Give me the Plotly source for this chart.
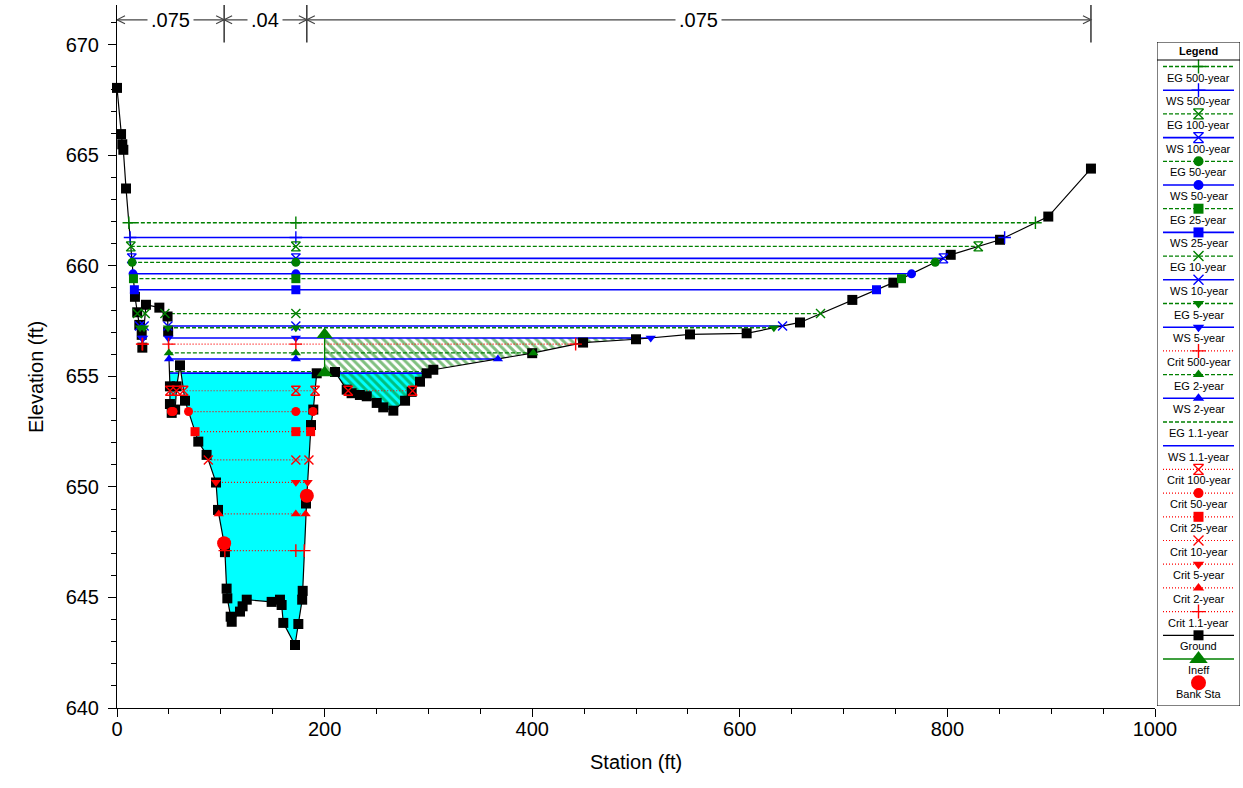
import plotly.graph_objects as go

# ---------------- data ----------------
ground_sta = [0.0, 3.9, 5.1, 6.1, 8.7, 17.3, 19.5, 21.5, 23.8, 24.4, 27.9, 40.8, 48.7, 49.3,
              51.0, 51.0, 52.7, 56.0, 57.5, 60.7, 65.5, 78.3, 86.3, 95.4, 97.3, 103.2, 104.0,
              105.6, 106.3, 109.5, 110.5, 118.5, 121.0, 125.0, 149.0, 157.0, 158.6, 160.2,
              171.5, 174.7, 178.4, 178.9, 182.1, 182.9, 186.9, 189.1, 192.4, 210.0, 221.3,
              226.0, 234.0, 240.6, 250.2, 256.5, 266.2, 277.5, 283.9, 291.9, 298.3, 304.7,
              400.0, 449.0, 500.0, 552.0, 606.6, 658.0, 708.4, 747.9, 803.2, 850.7, 897.2, 938.3]
ground_elev = [668.05, 665.96, 665.5, 665.25, 663.5, 658.6, 657.9, 657.33, 656.88, 656.3, 658.24,
               658.11, 657.71, 657.03, 654.55, 653.75, 653.35, 653.5, 654.55, 655.5, 653.9,
               652.05, 651.45, 650.2, 648.96, 647.45, 647.05, 645.4, 644.96, 644.13, 643.9,
               644.36, 644.6, 644.9, 644.8, 644.9, 644.66, 643.85, 642.85, 643.8, 644.9, 645.3,
               649.25, 649.6, 652.8, 653.5, 655.14, 655.2, 654.4, 654.24, 654.16, 654.1, 653.8,
               653.6, 653.45, 653.9, 654.3, 654.76, 655.14, 655.3, 656.05, 656.53, 656.68,
               656.9, 656.95, 657.44, 658.46, 659.24, 660.5, 661.18, 662.23, 664.4]

bank_sta = [103.2, 182.9]
bank_elev = [647.45, 649.6]

n_values = [".075", ".04", ".075"]

ineff_sta = 200.0
ineff_elev = 656.9
hatch_top = 656.74

profile_names = ["EG 500-year", "WS 500-year", "EG 100-year", "WS 100-year", "EG 50-year",
                 "WS 50-year", "EG 25-year", "WS 25-year", "EG 10-year", "WS 10-year",
                 "EG 5-year", "WS 5-year", "Crit 500-year", "EG 2-year", "WS 2-year",
                 "EG 1.1-year", "WS 1.1-year", "Crit 100-year", "Crit 50-year", "Crit 25-year",
                 "Crit 10-year", "Crit 5-year", "Crit 2-year", "Crit 1.1-year"]
profile_elev = [661.95, 661.28, 660.88, 660.34, 660.16, 659.64, 659.42, 658.92, 657.84, 657.28,
                657.20, 656.74, 656.46, 656.06, 655.79, 655.22, 655.15, 654.35, 653.41, 652.50,
                651.22, 650.21, 648.78, 647.12]
profile_symbols = ["cross-thin", "cross-thin", "hourglass-open", "hourglass-open", "circle",
                   "circle", "square", "square", "x-thin", "x-thin", "triangle-down",
                   "triangle-down", "cross-thin", "triangle-up", "triangle-up", None, None,
                   "hourglass-open", "circle", "square", "x-thin", "triangle-down",
                   "triangle-up", "cross-thin"]
middle_sta = 172.3

# ---------------- helpers ----------------
GREEN, BLUE, RED = "rgb(0,128,0)", "rgb(0,0,255)", "rgb(255,0,0)"
FONT = "Arial, Liberation Sans, sans-serif"


def style_for(name):
    if name.startswith("EG"):
        return GREEN, "4px,2px", 1.3
    if name.startswith("WS"):
        return BLUE, "solid", 1.6
    return RED, "1px,2px", 1.2


def ground_at(x):
    for i in range(len(ground_sta) - 1):
        xa, xb = ground_sta[i], ground_sta[i + 1]
        if xa <= x <= xb and xb > xa:
            ya, yb = ground_elev[i], ground_elev[i + 1]
            return ya + (x - xa) / (xb - xa) * (yb - ya)
    return ground_elev[-1]


def wet_intervals(level):
    out, start = [], None
    for i in range(len(ground_sta) - 1):
        xa, ya = ground_sta[i], ground_elev[i]
        xb, yb = ground_sta[i + 1], ground_elev[i + 1]
        if ya >= level and yb < level:
            start = xa + (level - ya) / (yb - ya) * (xb - xa)
        elif ya < level and yb >= level and start is not None:
            end = xa + (level - ya) / (yb - ya) * (xb - xa)
            out.append((start, end))
            start = None
    return out


fig = go.Figure()

# ---- water fill for lowest WS ----
ws_low = profile_elev[profile_names.index("WS 1.1-year")]
fx, fy = [], []
for a, b in wet_intervals(ws_low):
    fx += [a] + [x for x in ground_sta if a < x < b] + [b, None]
    fy += [ws_low] + [ground_elev[k] for k, x in enumerate(ground_sta) if a < x < b] + [ws_low, None]
fig.add_trace(go.Scatter(x=fx, y=fy, mode="lines", fill="toself", fillcolor="rgb(0,255,255)",
                         line=dict(width=0), hoverinfo="skip", showlegend=False))

# ---- ineffective flow hatch ----
hb = [b for a, b in wet_intervals(hatch_top) if a <= ineff_sta <= b][0]
hx = [ineff_sta, ineff_sta] + [x for x in ground_sta if ineff_sta < x < hb] + [hb]
hy = [hatch_top, ground_at(ineff_sta)] + [ground_elev[k] for k, x in enumerate(ground_sta)
                                            if ineff_sta < x < hb] + [hatch_top]
fig.add_trace(go.Scatter(x=hx, y=hy, mode="lines", fill="toself", fillcolor="rgba(0,0,0,0)",
                         fillpattern=dict(shape="\\", fgcolor=GREEN, bgcolor="rgba(0,0,0,0)",
                                          size=6, solidity=0.5),
                         line=dict(width=0), hoverinfo="skip", showlegend=False))

# ---- profile lines ----
marker_sets = []
for name, elev, sym in zip(profile_names, profile_elev, profile_symbols):
    col, dash, w = style_for(name)
    ivs = wet_intervals(elev)
    lx, ly, mx = [], [], []
    for a, b in ivs:
        lx += [a, b, None]
        ly += [elev, elev, None]
        mx += [a, b]
        if a < middle_sta < b:
            mx.append(middle_sta)
    fig.add_trace(go.Scatter(x=lx, y=ly, mode="lines", line=dict(color=col, dash=dash, width=w),
                             showlegend=False, name=name))
    if sym:
        marker_sets.append((name, mx, [elev] * len(mx), sym, col))

# ---- ground ----
fig.add_trace(go.Scatter(x=ground_sta, y=ground_elev, mode="lines+markers",
                         line=dict(color="black", width=1.2),
                         marker=dict(symbol="square", size=10, color="black"),
                         cliponaxis=False, showlegend=False, name="Ground"))

# ---- profile markers ----
for name, mx, my, sym, col in marker_sets:
    thin = sym.endswith("thin") or sym.endswith("open")
    fig.add_trace(go.Scatter(x=mx, y=my, mode="markers", cliponaxis=False, showlegend=False,
                             marker=dict(symbol=sym, size=9, color=col,
                                         line=dict(color=col, width=1.4 if thin else 0)),
                             name=name))

# ---- ineffective marker ----
g_ineff = ground_at(ineff_sta)
fig.add_trace(go.Scatter(x=[ineff_sta, ineff_sta], y=[g_ineff, ineff_elev], mode="lines+markers",
                         line=dict(color=GREEN, width=1.3),
                         marker=dict(symbol="triangle-up", size=14, color=GREEN),
                         showlegend=False, name="Ineff"))

# ---- bank stations ----
fig.add_trace(go.Scatter(x=bank_sta, y=bank_elev, mode="markers",
                         marker=dict(symbol="circle", size=14, color=RED),
                         showlegend=False, name="Bank Sta"))

# ---- Manning's n bars ----
n_bounds = [ground_sta[0]] + bank_sta + [ground_sta[-1]]
y_arrow, y_bar0, y_bar1 = 671.13, 670.1, 671.8
dx, dy = 7.7, 0.18
shapes = []
for xb in n_bounds[1:]:
    shapes.append(dict(type="line", xref="x", yref="y", x0=xb, x1=xb, y0=y_bar0, y1=y_bar1,
                       line=dict(color="black", width=1.2)))
annotations = []
for k, lab in enumerate(n_values):
    a, b = n_bounds[k], n_bounds[k + 1]
    shapes.append(dict(type="line", xref="x", yref="y", x0=a, x1=b, y0=y_arrow, y1=y_arrow,
                       line=dict(color="#444", width=1.2)))
    shapes.append(dict(type="path", xref="x", yref="y",
                       path=f"M {a+dx},{y_arrow+dy} L {a},{y_arrow} L {a+dx},{y_arrow-dy}",
                       line=dict(color="#444", width=1.2)))
    shapes.append(dict(type="path", xref="x", yref="y",
                       path=f"M {b-dx},{y_arrow+dy} L {b},{y_arrow} L {b-dx},{y_arrow-dy}",
                       line=dict(color="#444", width=1.2)))
    annotations.append(dict(x=(a + b) / 2, y=y_arrow, xref="x", yref="y", text=lab,
                            showarrow=False, bgcolor="white", borderpad=3,
                            font=dict(family=FONT, size=20, color="black")))

# ---- axis titles ----
W, H = 1243, 788
ml, mr, mt, mb = 117, 3, 5, 80
pw, ph = W - ml - mr, H - mt - mb


def pxp(px):
    return (px - ml) / pw


def pyp(py):
    return (H - mb - py) / ph


annotations.append(dict(x=pxp(23), y=pyp(377), xref="paper", yref="paper", text="Elevation (ft)",
                        textangle=-90, showarrow=False, font=dict(family=FONT, size=20, color="black")))
annotations.append(dict(x=pxp(636), y=pyp(775), xref="paper", yref="paper", text="Station (ft)",
                        showarrow=False, font=dict(family=FONT, size=20, color="black")))

# ---- custom legend (pixel-unit axes) ----
LX0, LX1, LY0, LY1 = 1157, 1240, 42, 706
legend_names = profile_names + ["Ground", "Ineff", "Bank Sta"]
lcx = (1163 + 1234) / 2
shapes.append(dict(type="rect", xref="x2", yref="y2", x0=LX0, x1=LX1, y0=LY0, y1=LY1,
                   line=dict(color="black", width=1), fillcolor="rgba(0,0,0,0)"))
shapes.append(dict(type="line", xref="x2", yref="y2", x0=LX0, x1=LX1, y0=60, y1=60,
                   line=dict(color="black", width=1)))
annotations.append(dict(x=lcx, y=51, xref="x2", yref="y2", text="<b>Legend</b>", showarrow=False,
                        font=dict(family=FONT, size=11, color="black")))
for i, name in enumerate(legend_names):
    ty = 77.5 + i * 23.7
    ly = ty - 11
    if name in profile_names:
        col, dash, w = style_for(name)
        sym = profile_symbols[profile_names.index(name)]
        size = 10
    elif name == "Ground":
        col, dash, w, sym, size = "black", "solid", 1.2, "square", 10
    elif name == "Ineff":
        col, dash, w, sym, size = GREEN, "solid", 1.3, "triangle-up", 16
    else:
        col, dash, w, sym, size = RED, None, 0, "circle", 15
    if dash:
        fig.add_trace(go.Scatter(x=[1163, 1234], y=[ly, ly], xaxis="x2", yaxis="y2", mode="lines",
                                 line=dict(color=col, dash=dash, width=w), showlegend=False,
                                 hoverinfo="skip"))
    if sym:
        thin = sym.endswith("thin") or sym.endswith("open")
        fig.add_trace(go.Scatter(x=[lcx], y=[ly], xaxis="x2", yaxis="y2", mode="markers",
                                 marker=dict(symbol=sym, size=size, color=col,
                                             line=dict(color=col, width=1.4 if thin else 0)),
                                 showlegend=False, hoverinfo="skip", cliponaxis=False))
    annotations.append(dict(x=lcx, y=ty, xref="x2", yref="y2", text=name, showarrow=False,
                            font=dict(family=FONT, size=11, color="black")))

fig.update_layout(
    width=W, height=H, margin=dict(l=ml, r=mr, t=mt, b=mb, autoexpand=False), autosize=False,
    paper_bgcolor="white", plot_bgcolor="white", showlegend=False,
    font=dict(family=FONT, color="black"),
    xaxis=dict(domain=[0, pxp(1155)], range=[0, 1000], dtick=200, showgrid=False, zeroline=False,
               showline=True, linecolor="black", linewidth=1, ticks="outside", ticklen=8,
               tickcolor="black", tickfont=dict(family=FONT, size=20), automargin=False,
               ticklabelstandoff=-5,
               minor=dict(dtick=50, ticks="outside", ticklen=5, tickcolor="black")),
    yaxis=dict(domain=[0, 1], range=[640, 671.8], tickvals=[640, 645, 650, 655, 660, 665, 670],
               showgrid=False, zeroline=False, showline=True, linecolor="black", linewidth=1,
               ticks="outside", ticklen=8, tickcolor="black", tickfont=dict(family=FONT, size=20),
               automargin=False, ticklabelstandoff=5,
               minor=dict(dtick=1, ticks="outside", ticklen=5, tickcolor="black")),
    xaxis2=dict(domain=[pxp(LX0), pxp(LX1)], range=[LX0, LX1], visible=False, anchor="y2",
                automargin=False),
    yaxis2=dict(domain=[pyp(LY1), pyp(LY0)], range=[LY1, LY0], visible=False, anchor="x2",
                automargin=False),
    shapes=shapes, annotations=annotations,
)

fig.write_html("out.html", config={"responsive": False, "displayModeBar": False},
               post_script="document.body.style.margin='0';document.body.style.overflow='hidden';")
